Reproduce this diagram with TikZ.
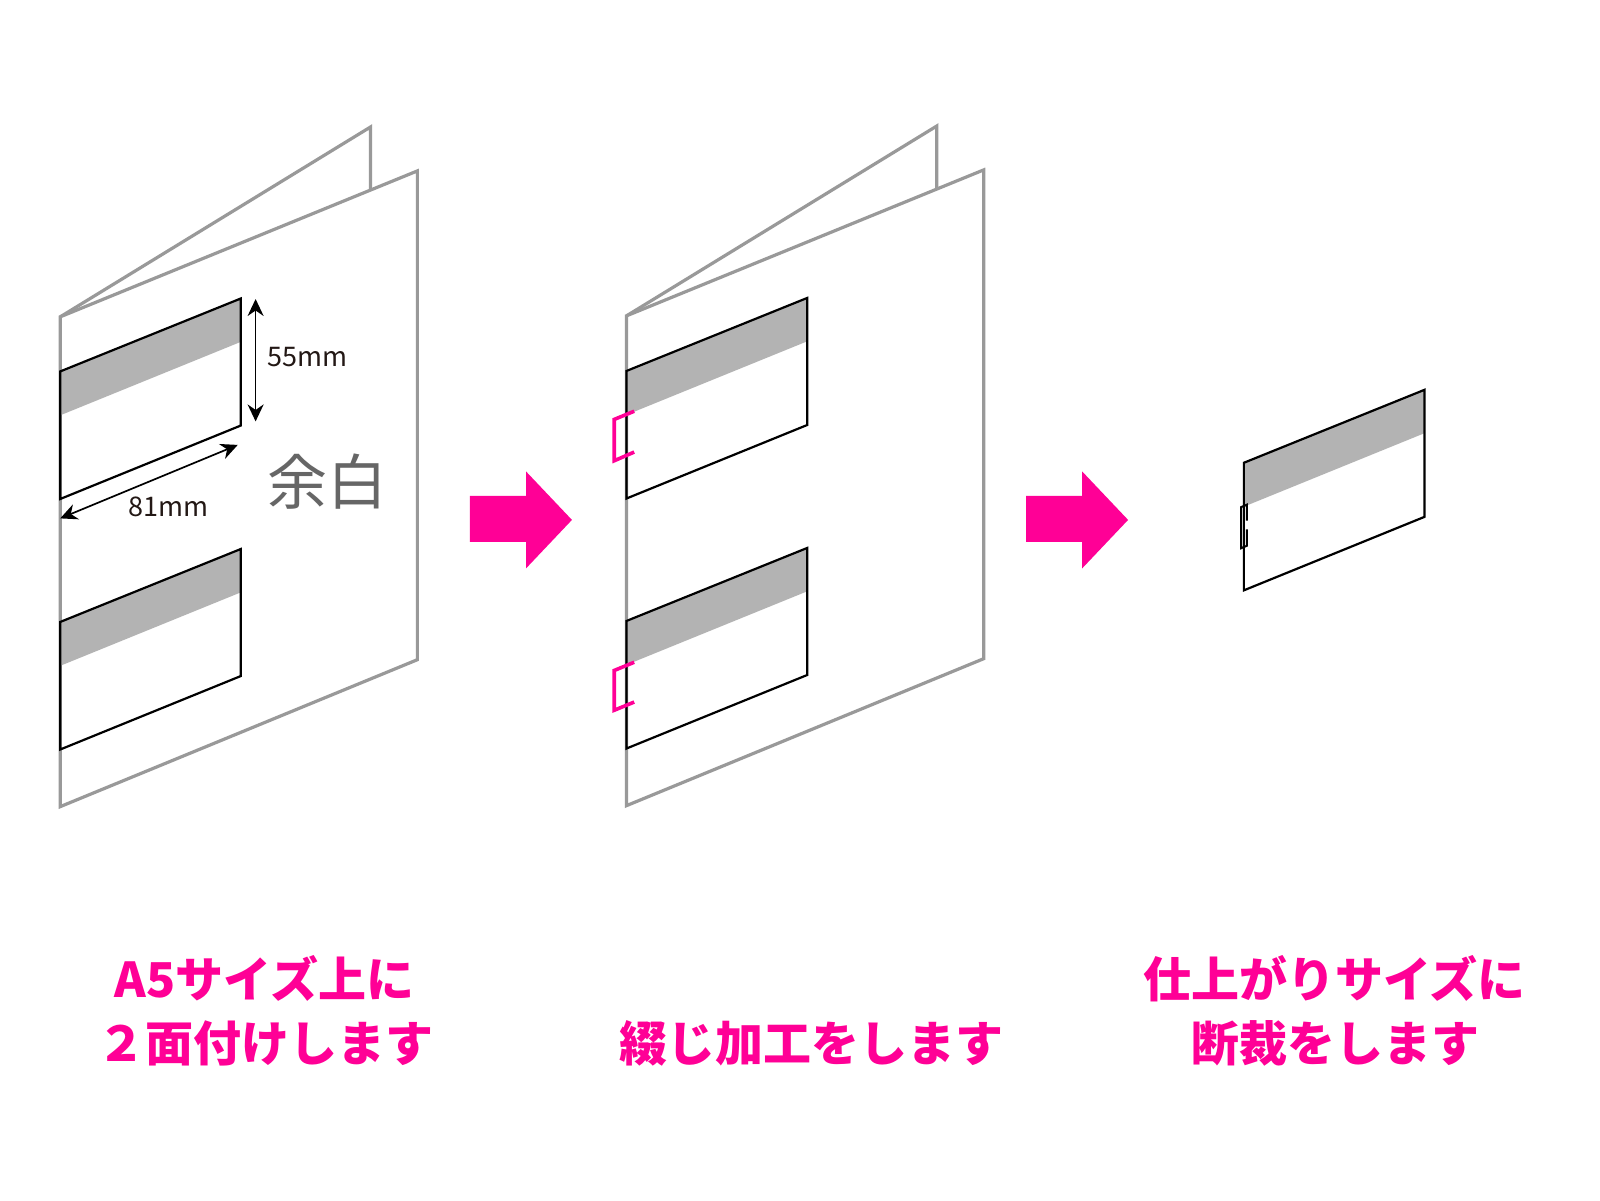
\documentclass[tikz,border=0pt]{standalone}
\usepackage{fontspec}
\setmainfont{Noto Sans CJK JP}
\usetikzlibrary{arrows.meta}
\definecolor{hotpink}{RGB}{255,0,150}
\definecolor{sheetgray}{RGB}{153,153,153}
\definecolor{bandgray}{RGB}{179,179,179}
\definecolor{dimtext}{RGB}{35,24,21}
\definecolor{marginlabel}{RGB}{102,102,102}
\tikzset{
  sheet/.style={draw=sheetgray,line width=1.6pt,line join=miter},
  card/.style={draw=black,line width=1.1pt,line join=miter},
  band/.style={fill=bandgray,draw=none},
  staple/.style={draw=hotpink,line width=1.8pt,line join=miter},
  thinstaple/.style={draw=black,line width=1pt,line join=miter},
  bigarrow/.style={fill=hotpink,draw=none},
  dimline/.style={draw=black,line width=0.85pt,{Stealth[length=8.5pt,width=8pt]}-{Stealth[length=8.5pt,width=8pt]}},
  dimlabel/.style={text=dimtext,font=\fontsize{13.5pt}{16pt}\selectfont,inner sep=0pt},
  marginnote/.style={text=marginlabel,font=\fontsize{30pt}{33pt}\selectfont,inner sep=0pt},
  caption/.style={text=hotpink,font=\bfseries\fontsize{24pt}{28pt}\selectfont,inner sep=0pt,anchor=base},
  pics/booklet/.style={code={
    \draw[sheet] (0,0) -- (304,-186) -- (304,-124);
    \draw[sheet,fill=white] (0,0) -- (350,-143) -- (350,336) -- (0,480) -- cycle;
  }},
  pics/cardface/.style={code={
    \fill[band] (0,0) -- (177,-71.5) -- (177,-29) -- (0,43) -- cycle;
    \draw[card] (0,0) -- (177,-71.5) -- (177,53) -- (0,125) -- cycle;
  }},
}
\begin{document}
\begin{tikzpicture}[x=800pt/1568,y=-800pt/1568]
\useasboundingbox (0,0) rectangle (1568,1176);
\fill[white] (0,0) rectangle (1568,1176);

% first booklet
\pic at (59,310.5) {booklet};
\pic at (59,364) {cardface};
\pic at (59,609.5) {cardface};

\coordinate (hTop) at (250.5,293);
\coordinate (hBot) at (250.5,413);
\coordinate (wEnd) at (233,436);
\coordinate (wStart) at (59,508);
\draw[dimline] (hTop) -- (hBot);
\draw[dimline] (wStart) -- (wEnd);
\node[dimlabel] (lblh) at (301,350) {55mm};
\node[dimlabel] (lblw) at (165.5,497) {81mm};
\node[marginnote] (lblm) at (320.5,472) {余白};

% second booklet
\pic at (614,309.5) {booklet};
\pic at (614,363.5) {cardface};
\pic at (614,608.5) {cardface};
\draw[staple] (621.5,403) -- (602,411) -- (602,451.5) -- (621.5,443);
\draw[staple] (621.5,649) -- (602,657) -- (602,696) -- (621.5,688);

% cut card
\pic at (1219,453.5) {cardface};
\draw[thinstaple] (1222,510.3) -- (1222,494.5) -- (1216.2,497) -- (1216.2,537.3) -- (1222,534.8) -- (1222,518.7);

% process arrows
\fill[bigarrow] (460.5,486) -- (515.5,486) -- (515.5,462) -- (560.5,509.5) -- (515.5,557) -- (515.5,531) -- (460.5,531) -- cycle;
\fill[bigarrow] (1005.5,486) -- (1060.5,486) -- (1060.5,462) -- (1105.5,509.5) -- (1060.5,557) -- (1060.5,531) -- (1005.5,531) -- cycle;

% captions
\node[caption] (c1a) at (259,978) {A5サイズ上に};
\node[caption] (c1b) at (260,1040) {２面付けします};
\node[caption] (c2) at (795.5,1040) {綴じ加工をします};
\node[caption] (c3a) at (1308,978) {仕上がりサイズに};
\node[caption] (c3b) at (1308.5,1040) {断裁をします};
\end{tikzpicture}
\end{document}
